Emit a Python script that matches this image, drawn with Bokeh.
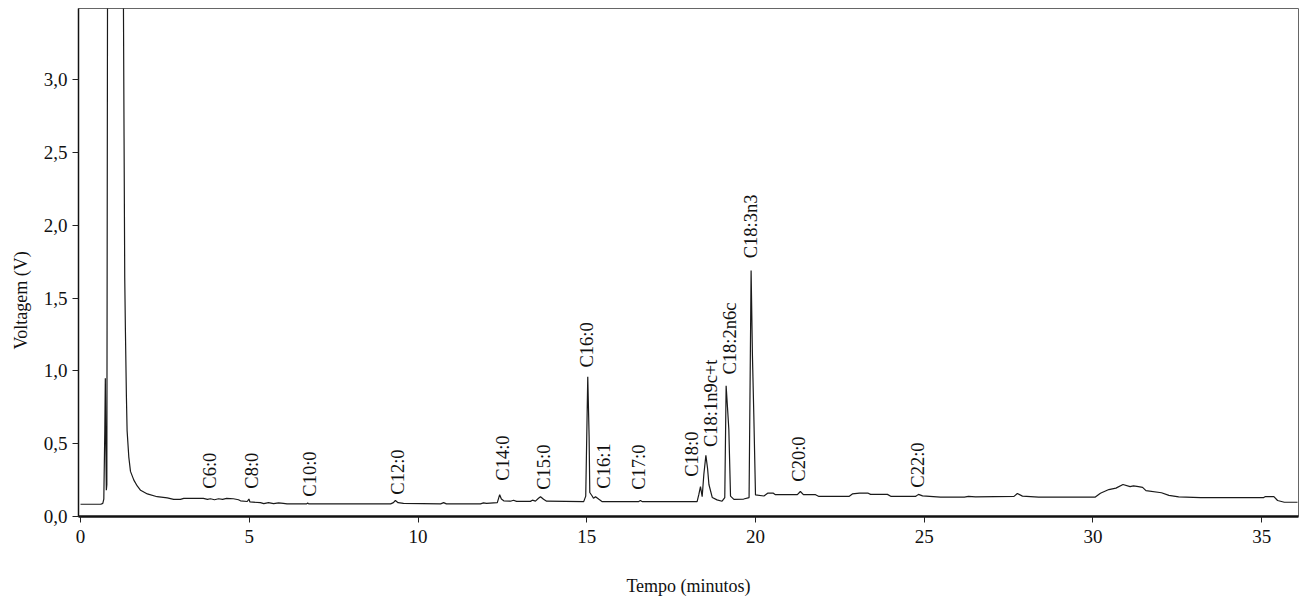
import math
from bokeh.plotting import figure
from bokeh.models import ColumnDataSource, Range1d, CustomJSTickFormatter, FixedTicker, Title
from bokeh.core.properties import value
from bokeh.embed import file_html
from bokeh.resources import INLINE

# Chromatogram trace (time in minutes, voltage in V)
time_min = [
    0.00, 0.60, 0.66, 0.69, 0.72, 0.735, 0.75, 0.765, 0.78, 0.80, 1.27, 1.29, 1.31, 1.33,
    1.36, 1.38, 1.43, 1.48, 1.58, 1.68, 1.78, 1.98, 2.27, 2.57, 2.76, 2.96, 3.06, 3.56,
    3.64, 3.76, 3.85, 3.97, 4.09, 4.21, 4.33, 4.53, 4.68, 4.74, 4.94, 4.99, 5.02, 5.33,
    5.43, 5.57, 5.72, 5.87, 6.01, 6.12, 6.70, 6.73, 6.76, 9.19, 9.27, 9.33, 9.41, 9.57,
    10.67, 10.76, 10.84, 11.85, 11.94, 12.03, 12.35, 12.42, 12.47, 12.54, 12.74, 12.83,
    12.92, 13.33, 13.39, 13.48, 13.57, 13.63, 13.72, 13.81, 14.91, 14.97, 15.03, 15.07,
    15.09, 15.16, 15.20, 15.26, 15.36, 15.46, 16.53, 16.59, 16.65, 18.27, 18.32, 18.37,
    18.42, 18.47, 18.53, 18.58, 18.62, 18.72, 18.86, 19.01, 19.09, 19.13, 19.17, 19.21,
    19.26, 19.36, 19.65, 19.81, 19.87, 19.91, 19.95, 20.00, 20.25, 20.36, 20.53, 20.59,
    21.24, 21.33, 21.42, 21.78, 21.88, 22.77, 22.87, 23.08, 23.34, 23.41, 23.91, 24.02,
    24.74, 24.83, 24.95, 25.48, 26.19, 26.31, 26.52, 27.66, 27.76, 27.91, 28.39, 30.06,
    30.22, 30.47, 30.68, 30.89, 31.10, 31.20, 31.35, 31.47, 31.57, 32.03, 32.25, 32.54,
    33.19, 35.06, 35.11, 35.36, 35.47, 35.67, 36.06,
]
voltage = [
    0.084, 0.084, 0.090, 0.120, 0.600, 0.950, 0.500, 0.180, 0.220, 3.600, 3.600, 2.600, 1.640, 1.280,
    0.820, 0.590, 0.410, 0.310, 0.250, 0.210, 0.180, 0.155, 0.136, 0.128, 0.118, 0.118, 0.125, 0.125,
    0.125, 0.118, 0.122, 0.115, 0.122, 0.118, 0.124, 0.122, 0.115, 0.108, 0.103, 0.120, 0.100, 0.095,
    0.088, 0.095, 0.088, 0.094, 0.090, 0.087, 0.087, 0.093, 0.087, 0.087, 0.095, 0.110, 0.095, 0.090,
    0.087, 0.095, 0.087, 0.087, 0.094, 0.090, 0.095, 0.150, 0.120, 0.108, 0.105, 0.112,
    0.104, 0.104, 0.112, 0.106, 0.125, 0.136, 0.118, 0.105, 0.102, 0.140, 0.960, 0.550,
    0.165, 0.141, 0.125, 0.136, 0.118, 0.102, 0.102, 0.110, 0.102, 0.102, 0.150, 0.205,
    0.136, 0.290, 0.420, 0.330, 0.220, 0.130, 0.114, 0.105, 0.130, 0.898, 0.750, 0.600,
    0.140, 0.118, 0.120, 0.130, 1.690, 1.100, 0.700, 0.148, 0.141, 0.160, 0.160, 0.150,
    0.150, 0.172, 0.150, 0.150, 0.138, 0.138, 0.155, 0.160, 0.160, 0.152, 0.152, 0.138,
    0.138, 0.152, 0.142, 0.133, 0.133, 0.138, 0.135, 0.138, 0.158, 0.140, 0.133, 0.133,
    0.160, 0.185, 0.195, 0.220, 0.205, 0.210, 0.205, 0.200, 0.178, 0.163, 0.145, 0.135,
    0.130, 0.130, 0.137, 0.137, 0.110, 0.098, 0.098,
]

# Peak labels (start of the rotated text)
peak_names = ["C6:0", "C8:0", "C10:0", "C12:0", "C14:0", "C15:0", "C16:0", "C16:1", "C17:0",
              "C18:0", "C18:1n9c+t", "C18:2n6c", "C18:3n3", "C20:0", "C22:0"]
peak_time = [3.85, 5.07, 6.81, 9.42, 12.53, 13.72, 15.02, 15.50, 16.56,
             18.13, 18.67, 19.23, 19.88, 21.30, 24.83]
peak_label_v = [0.191, 0.191, 0.136, 0.150, 0.246, 0.184, 1.023, 0.191, 0.184,
                0.273, 0.477, 0.975, 1.774, 0.239, 0.198]

x_ticks = [0, 5, 10, 15, 20, 25, 30, 35]
y_ticks = [0.0, 0.5, 1.0, 1.5, 2.0, 2.5, 3.0]

FONT = "Liberation Serif"

p = figure(width=1300, height=598, output_backend="svg", toolbar_location=None,
           x_range=Range1d(-0.06, 36.09), y_range=Range1d(0, 3.49),
           min_border_left=78, min_border_right=2, min_border_top=8, min_border_bottom=78)
p.xgrid.visible = False
p.ygrid.visible = False
p.outline_line_color = "#666666"
p.outline_line_width = 1
p.background_fill_color = "white"
p.border_fill_color = "white"

trace = ColumnDataSource(dict(t=time_min, v=voltage))
p.line("t", "v", source=trace, line_color="#1a1a1a", line_width=1.2)

labels = ColumnDataSource(dict(t=peak_time, v=peak_label_v, name=peak_names))
p.text("t", "v", text="name", source=labels, angle=math.pi / 2,
       text_align="left", text_baseline="middle",
       text_font=value(FONT), text_font_size="18.5px", text_color="#111111")

fmt = CustomJSTickFormatter(code="return tick.toFixed(1).replace('.', ',');")

p.xaxis.ticker = FixedTicker(ticks=x_ticks)
p.yaxis.ticker = FixedTicker(ticks=y_ticks)
p.yaxis.formatter = fmt

for ax in (p.xaxis[0], p.yaxis[0]):
    ax.major_label_text_font = FONT
    ax.major_label_text_font_size = "19px"
    ax.major_label_text_color = "#111111"
    ax.axis_label_text_font = FONT
    ax.axis_label_text_font_style = "normal"
    ax.axis_label_text_font_size = "18px"
    ax.axis_label_text_color = "#111111"
    ax.major_tick_in = 0
    ax.major_tick_out = 6
    ax.minor_tick_line_color = None
    ax.major_tick_line_color = "#222222"
    ax.axis_line_color = "#111111"

p.xaxis.axis_label = "Tempo (minutos)"
p.xaxis.axis_line_width = 2.5
p.yaxis.axis_line_width = 1.5
p.xaxis.major_label_standoff = 7
p.yaxis.major_label_standoff = 5
p.xaxis.axis_label_standoff = 30

# y title sits below the frame centre, as in the original
ytitle = Title(text="Voltagem (V)", align="left", offset=167, vertical_align="middle",
               standoff=17, text_font=FONT, text_font_size="18px",
               text_font_style="normal", text_color="#111111")
p.add_layout(ytitle, "left")

open("out.html", "w").write(file_html(p, INLINE))
